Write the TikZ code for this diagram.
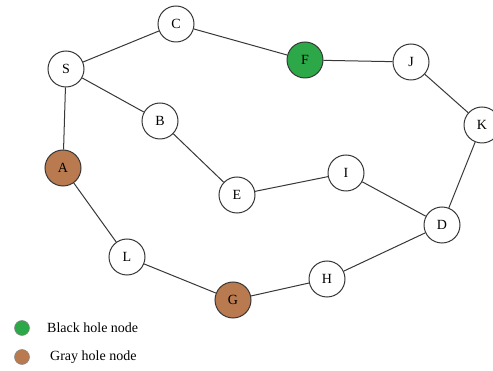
\documentclass[tikz,border=0pt]{standalone}
\usepackage{fontspec}
\setmainfont{Liberation Serif}
\definecolor{blackhole}{RGB}{44,168,72}
\definecolor{grayhole}{RGB}{184,122,78}
\definecolor{edgecol}{RGB}{55,55,55}
\begin{document}
\begin{tikzpicture}[x=1pt,y=-1pt,
  vertex/.style={circle,draw=edgecol,line width=1pt,fill=white,minimum size=36pt,inner sep=0pt,font=\fontsize{14}{14}\selectfont},
  bh/.style={vertex,fill=blackhole},
  gh/.style={vertex,fill=grayhole},
  link/.style={draw=edgecol,line width=1pt},
  legdot/.style={circle,draw=edgecol!60,line width=0.5pt,minimum size=15pt,inner sep=0pt},
  legtext/.style={anchor=west,inner sep=0pt,font=\fontsize{14}{14}\selectfont}]
\useasboundingbox (0,0) rectangle (493,371);
\node[vertex] (C) at (176,24) {C};
\node[vertex] (S) at (66,69) {S};
\node[bh]     (F) at (305,60) {F};
\node[vertex] (J) at (411,62) {J};
\node[vertex] (K) at (482,125) {K};
\node[vertex] (B) at (160,121) {B};
\node[gh]     (A) at (63,168) {A};
\node[vertex] (I) at (346,173) {I};
\node[vertex] (E) at (237,195) {E};
\node[vertex] (D) at (442,225) {D};
\node[vertex] (L) at (127,257) {L};
\node[vertex] (H) at (327,279) {H};
\node[gh]     (G) at (233,300) {G};
\path[link] (S) -- (C) (C) -- (F) (F) -- (J) (J) -- (K) (K) -- (D)
  (S) -- (B) (B) -- (E) (E) -- (I) (I) -- (D)
  (S) -- (A) (A) -- (L) (L) -- (G) (G) -- (H) (H) -- (D);
% legend
\node[legdot,fill=blackhole] (lb) at (22,328) {};
\node[legtext] (tb) at (47,328) {Black hole node};
\node[legdot,fill=grayhole] (lg) at (22,357) {};
\node[legtext] (tg) at (50,357) {Gray hole node};
\end{tikzpicture}
\end{document}
